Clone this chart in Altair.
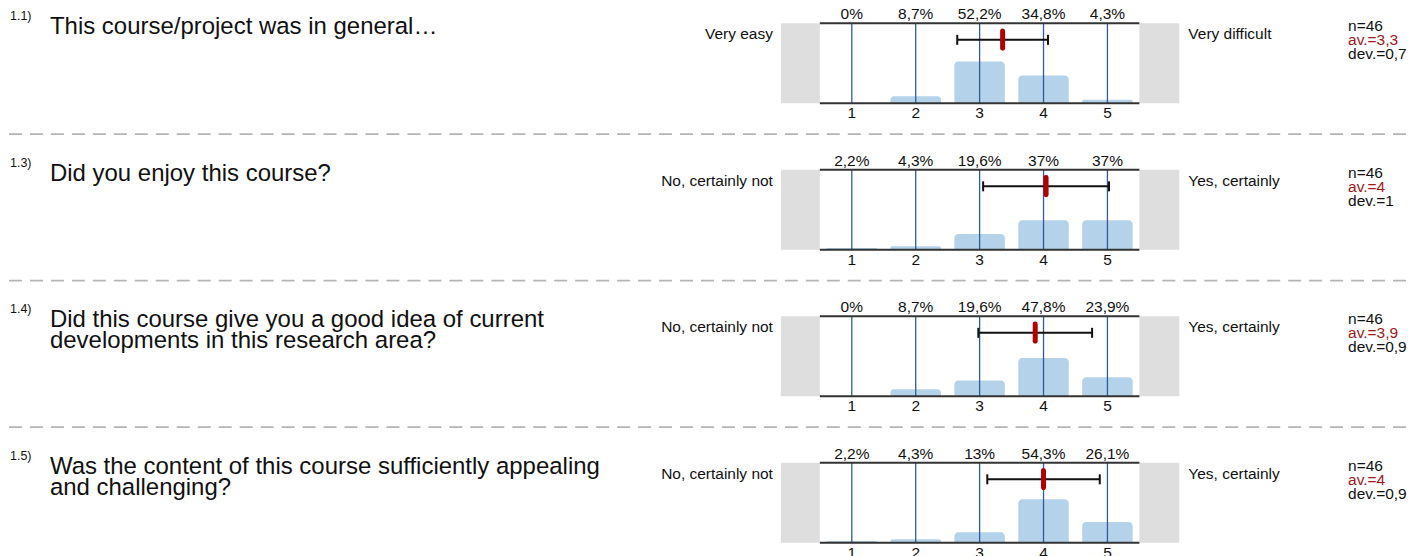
import altair as alt
import pandas as pd

# ---- data ----
q_nums = ["1.1)", "1.3)", "1.4)", "1.5)"]
q_texts = [
    ["This course/project was in general…"],
    ["Did you enjoy this course?"],
    ["Did this course give you a good idea of current", "developments in this research area?"],
    ["Was the content of this course sufficiently appealing", "and challenging?"],
]
left_labels = ["Very easy", "No, certainly not", "No, certainly not", "No, certainly not"]
right_labels = ["Very difficult", "Yes, certainly", "Yes, certainly", "Yes, certainly"]
ratings = [1, 2, 3, 4, 5]
pcts = [
    [0, 8.7, 52.2, 34.8, 4.3],
    [2.2, 4.3, 19.6, 37, 37],
    [0, 8.7, 19.6, 47.8, 23.9],
    [2.2, 4.3, 13, 54.3, 26.1],
]
pct_labels = [
    ["0%", "8,7%", "52,2%", "34,8%", "4,3%"],
    ["2,2%", "4,3%", "19,6%", "37%", "37%"],
    ["0%", "8,7%", "19,6%", "47,8%", "23,9%"],
    ["2,2%", "4,3%", "13%", "54,3%", "26,1%"],
]
n_vals = [46, 46, 46, 46]
av_labels = ["3,3", "4", "3,9", "4"]
dev_labels = ["0,7", "1", "0,9", "0,9"]
means = [3.36, 4.04, 3.87, 4.0]
devs = [0.71, 0.985, 0.89, 0.88]

FONT = "Liberation Sans"
PW, PH = 320, 80
SMALL = 15.5


def make_row(i):
    bars = pd.DataFrame({"rating": ratings, "pct": pcts[i], "label": pct_labels[i]})
    info = pd.DataFrame([{
        "left": left_labels[i], "right": right_labels[i],
        "n": f"n={n_vals[i]}", "av": f"av.={av_labels[i]}", "dev": f"dev.={dev_labels[i]}",
        "mean": means[i], "sd": devs[i],
    }])
    xs = alt.Scale(domain=[0.5, 5.5], nice=False, zero=False)
    ys = alt.Scale(domain=[0, 100], nice=False, zero=False)
    bb = alt.Chart(bars)
    bi = alt.Chart(info)

    gray_l = bi.mark_rect(color="#dedede").encode(
        x=alt.value(-39), x2=alt.value(0), y=alt.value(0), y2=alt.value(PH))
    gray_r = bi.mark_rect(color="#dedede").encode(
        x=alt.value(PW), x2=alt.value(PW + 40), y=alt.value(0), y2=alt.value(PH))
    bar = bb.transform_calculate(
        x0="datum.rating - 0.395", x1="datum.rating + 0.395"
    ).mark_rect(color="#b4d3ea", cornerRadiusTopLeft=4, cornerRadiusTopRight=4).encode(
        x=alt.X("x0:Q", scale=xs, axis=None), x2="x1:Q",
        y=alt.Y("pct:Q", scale=ys, axis=None), y2=alt.datum(0))
    grid = bb.mark_rule(color="#2c5d99", strokeWidth=1.3).encode(
        x=alt.X("rating:Q", scale=xs, axis=None), y=alt.value(0), y2=alt.value(PH))
    top_line = bi.mark_rule(color="#333333", strokeWidth=2).encode(
        x=alt.value(0), x2=alt.value(PW), y=alt.value(0))
    bot_line = bi.mark_rule(color="#333333", strokeWidth=2).encode(
        x=alt.value(0), x2=alt.value(PW), y=alt.value(PH))
    ticks = bb.mark_text(font=FONT, fontSize=SMALL, baseline="alphabetic", color="#111111").encode(
        x=alt.X("rating:Q", scale=xs, axis=None), y=alt.value(PH + 15.2), text="rating:N")
    plabels = bb.mark_text(font=FONT, fontSize=SMALL, baseline="alphabetic", color="#111111").encode(
        x=alt.X("rating:Q", scale=xs, axis=None), y=alt.value(-4), text="label:N")
    ebase = bi.transform_calculate(lo="datum.mean - datum.sd", hi="datum.mean + datum.sd")
    err = ebase.mark_rule(color="#111111", strokeWidth=2).encode(
        x=alt.X("lo:Q", scale=xs, axis=None), x2="hi:Q", y=alt.value(16.5))
    cap_l = ebase.mark_rule(color="#111111", strokeWidth=2).encode(
        x=alt.X("lo:Q", scale=xs, axis=None), y=alt.value(11.5), y2=alt.value(21.5))
    cap_r = ebase.mark_rule(color="#111111", strokeWidth=2).encode(
        x=alt.X("hi:Q", scale=xs, axis=None), y=alt.value(11.5), y2=alt.value(21.5))
    mean = bi.mark_rule(color="#b00000", strokeWidth=5, strokeCap="round").encode(
        x=alt.X("mean:Q", scale=xs, axis=None), y=alt.value(7.7), y2=alt.value(25))
    lt = bi.mark_text(font=FONT, fontSize=SMALL, align="right", baseline="alphabetic", color="#111111").encode(
        x=alt.value(-47), y=alt.value(16), text="left:N")
    rt = bi.mark_text(font=FONT, fontSize=SMALL, align="left", baseline="alphabetic", color="#111111").encode(
        x=alt.value(PW + 49), y=alt.value(16), text="right:N")
    s_n = bi.mark_text(font=FONT, fontSize=SMALL, align="left", baseline="alphabetic", color="#111111").encode(
        x=alt.value(529), y=alt.value(8), text="n:N")
    s_av = bi.mark_text(font=FONT, fontSize=SMALL, align="left", baseline="alphabetic", color="#a01818").encode(
        x=alt.value(529), y=alt.value(22), text="av:N")
    s_dev = bi.mark_text(font=FONT, fontSize=SMALL, align="left", baseline="alphabetic", color="#111111").encode(
        x=alt.value(529), y=alt.value(36), text="dev:N")
    num = bi.mark_text(font=FONT, fontSize=12.5, align="left", baseline="alphabetic", color="#111111",
                       text=q_nums[i]).encode(x=alt.value(-811), y=alt.value(-3))
    qt = bi.mark_text(font=FONT, fontSize=24, align="left", baseline="alphabetic", color="#111111",
                      lineHeight=21, text=q_texts[i]).encode(x=alt.value(-771), y=alt.value(11))
    layers = [gray_l, gray_r, bar, grid, top_line, bot_line, ticks, plabels,
              err, cap_l, cap_r, mean, lt, rt, s_n, s_av, s_dev, num, qt]
    if i < 3:
        sep = bi.mark_rule(color="#b5b5b5", strokeWidth=1.8, strokeDash=[13, 8]).encode(
            x=alt.value(-812), x2=alt.value(589), y=alt.value(111))
        layers.append(sep)
    return alt.layer(*layers).properties(width=PW, height=PH)


rows = [make_row(i) for i in range(4)]
chart = alt.vconcat(*rows, spacing=66.7, bounds="flush").properties(
    padding={"left": 0, "top": -1, "right": 0, "bottom": 0}
).configure_view(strokeWidth=0)

chart.save("out.html", embed_options={"renderer": "svg", "actions": False})
